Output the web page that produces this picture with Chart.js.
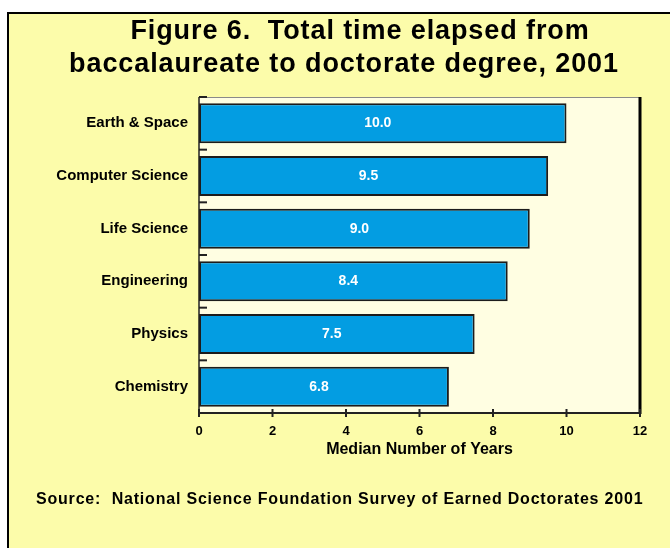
<!DOCTYPE html>
<html>
<head>
<meta charset="utf-8">
<script src="https://cdn.jsdelivr.net/npm/chart.js@4.4.1/dist/chart.umd.min.js"></script>
<style>
  html, body { margin: 0; padding: 0; background: #ffffff; }
  #wrap { position: relative; width: 670px; height: 548px; overflow: hidden; }
  #box { position: absolute; left: 7px; top: 12px; width: 700px; height: 600px;
         border: 2px solid #000; background: #FCFCAA; box-sizing: border-box; }
  #c { position: absolute; left: 0; top: 0; }
</style>
</head>
<body>
<div id="wrap">
  <div id="box"></div>
  <canvas id="c" width="670" height="548"></canvas>
</div>
<script>
const titleLines = ["Figure 6.  Total time elapsed from", "baccalaureate to doctorate degree, 2001"];
const categories = ["Earth & Space", "Computer Science", "Life Science", "Engineering", "Physics", "Chemistry"];
const medianYears = [10.0, 9.5, 9.0, 8.4, 7.5, 6.8];
const valueLabels = ["10.0", "9.5", "9.0", "8.4", "7.5", "6.8"];
const xTickValues = [0, 2, 4, 6, 8, 10, 12];
const xAxisTitle = "Median Number of Years";
const sourceText = "Source:  National Science Foundation Survey of Earned Doctorates 2001";

const FONT = "'Liberation Sans', Arial, Helvetica, sans-serif";

const decor = {
  id: 'decor',
  beforeDraw(chart) {
    const { ctx, chartArea: a } = chart;
    ctx.save();
    ctx.fillStyle = '#FFFEE2';
    ctx.fillRect(a.left, a.top, a.right - a.left, a.bottom - a.top);
    ctx.restore();
  },
  afterDatasetsDraw(chart) {
    const { ctx, chartArea: a, scales } = chart;
    ctx.save();
    ctx.strokeStyle = '#8a8a8a';
    ctx.lineWidth = 1;
    ctx.beginPath(); ctx.moveTo(a.left, a.top + 0.5); ctx.lineTo(a.right, a.top + 0.5); ctx.stroke();
    ctx.strokeStyle = '#000';
    ctx.lineWidth = 3;
    ctx.beginPath(); ctx.moveTo(a.right, a.top); ctx.lineTo(a.right, a.bottom + 1); ctx.stroke();
    ctx.strokeStyle = '#222';
    ctx.lineWidth = 1.5;
    ctx.beginPath(); ctx.moveTo(a.left, a.top); ctx.lineTo(a.left, a.bottom); ctx.stroke();
    ctx.lineWidth = 2;
    ctx.beginPath(); ctx.moveTo(a.left - 1, a.bottom); ctx.lineTo(a.right + 1, a.bottom); ctx.stroke();
    const xs = scales.x;
    xs.ticks.forEach((t, i) => {
      const px = xs.getPixelForTick(i);
      ctx.beginPath(); ctx.moveTo(px, a.bottom - 4); ctx.lineTo(px, a.bottom + 4); ctx.stroke();
    });
    const ys = scales.y;
    const n = ys.ticks.length;
    const step = n > 1 ? ys.getPixelForTick(1) - ys.getPixelForTick(0) : (a.bottom - a.top);
    for (let i = 0; i <= n; i++) {
      const py = i < n ? ys.getPixelForTick(i) - step / 2 : a.bottom;
      ctx.beginPath(); ctx.moveTo(a.left, py); ctx.lineTo(a.left + 8, py); ctx.stroke();
    }
    const meta = chart.getDatasetMeta(0);
    ctx.fillStyle = '#ffffff';
    ctx.font = 'bold 14px ' + FONT;
    ctx.textAlign = 'center';
    ctx.textBaseline = 'middle';
    meta.data.forEach((bar, i) => {
      const cx = (bar.base + bar.x) / 2 - 5;
      ctx.fillText(valueLabels[i], cx, bar.y);
    });
    ctx.fillStyle = '#000';
    ctx.textBaseline = 'alphabetic';
    ctx.font = 'bold 27px ' + FONT;
    ctx.letterSpacing = '0.9px';
    ctx.fillText(titleLines[0], 360, 39);
    ctx.fillText(titleLines[1], 344, 72);
    ctx.textAlign = 'left';
    ctx.font = 'bold 16px ' + FONT;
    ctx.letterSpacing = '0.8px';
    ctx.fillText(sourceText, 36, 504);
    ctx.letterSpacing = '0px';
    ctx.restore();
  }
};

new Chart(document.getElementById('c'), {
  type: 'bar',
  data: {
    labels: categories,
    datasets: [{
      data: medianYears,
      backgroundColor: '#039DE2',
      borderColor: '#1c1c1c',
      borderWidth: 2,
      borderSkipped: false,
      barPercentage: 0.76,
      categoryPercentage: 1.0
    }]
  },
  plugins: [decor],
  options: {
    indexAxis: 'y',
    responsive: false,
    animation: false,
    layout: { padding: { left: 0, right: 30, top: 97, bottom: 90 } },
    plugins: {
      legend: { display: false },
      tooltip: { enabled: false },
      title: { display: false }
    },
    scales: {
      x: {
        type: 'linear',
        min: 0, max: 12,
        afterBuildTicks(scale) { scale.ticks = xTickValues.map(v => ({ value: v })); },
        grid: { display: false, drawTicks: false },
        border: { display: false },
        ticks: {
          color: '#000',
          padding: 11,
          font: { family: FONT, size: 13, weight: 'bold' }
        },
        title: {
          display: true,
          text: xAxisTitle,
          color: '#000',
          padding: { top: 0, bottom: 0 },
          font: { family: FONT, size: 16, weight: 'bold', lineHeight: 1.0 }
        },
        afterFit(scale) { scale.height = 45; }
      },
      y: {
        grid: { display: false, drawTicks: false },
        border: { display: false },
        ticks: {
          color: '#000',
          padding: 11,
          font: { family: FONT, size: 15, weight: 'bold' }
        },
        afterFit(scale) { scale.width = 199; }
      }
    }
  }
});
</script>
</body>
</html>
